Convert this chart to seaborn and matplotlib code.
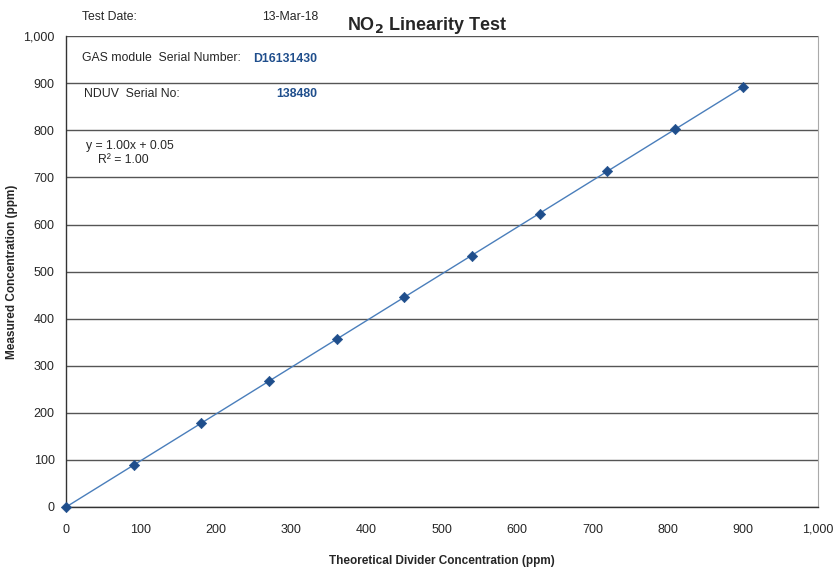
import numpy as np
import pandas as pd
import seaborn as sns
import matplotlib.pyplot as plt

# data
theoretical = [0, 90, 180, 270, 360, 450, 540, 630, 720, 810, 900]
measured = [0, 88, 178, 267, 357, 446, 534, 623, 713, 803, 892]
x_ticks = list(range(0, 1001, 100))
y_ticks = list(range(0, 1001, 100))

df = pd.DataFrame({'theoretical': theoretical, 'measured': measured})

sns.set_style('white')
plt.rcParams['font.family'] = ['Liberation Sans', 'DejaVu Sans']

fig = plt.figure(figsize=(8.33, 5.67), dpi=100)
ax = fig.add_axes([0.079, 0.106, 0.903, 0.830])

# trendline
slope, intercept = np.polyfit(df['theoretical'], df['measured'], 1)
xs = np.array([df['theoretical'].min(), df['theoretical'].max()])
ax.plot(xs, slope * xs + intercept, color='#4a7ebb', lw=1.0, zorder=2)

sns.scatterplot(data=df, x='theoretical', y='measured', marker='D', s=28,
                color='#1f4e8c', edgecolor='#1f4e8c', ax=ax, zorder=3, clip_on=False)

ax.set_xlim(0, 1000)
ax.set_ylim(0, 1000)
ax.set_xticks(x_ticks)
ax.set_yticks(y_ticks)
ax.set_xticklabels([f'{v:,}' for v in x_ticks], fontsize=9)
ax.set_yticklabels([f'{v:,}' for v in y_ticks], fontsize=9)
ax.tick_params(axis='both', direction='out', length=4, width=0.8, color='#333333', pad=4)
ax.tick_params(axis='x', pad=8)

ax.yaxis.grid(True, color='#555555', lw=1.0)
ax.xaxis.grid(False)
ax.set_axisbelow(True)

for s in ['left', 'bottom']:
    ax.spines[s].set_color('#333333')
    ax.spines[s].set_linewidth(1.0)
ax.spines['top'].set_visible(False)
ax.spines['right'].set_color('#aaaaaa')
ax.spines['right'].set_linewidth(0.8)

ax.set_xlabel('Theoretical Divider Concentration (ppm)', fontsize=8.5, fontweight='bold', labelpad=14)
ax.set_ylabel('Measured Concentration (ppm)', fontsize=8.5, fontweight='bold', labelpad=6)
ax.yaxis.set_label_coords(-0.064, 0.5)

# header texts
fs = 8.8
fig.text(82 / 833, 1 - 17 / 567, 'Test Date:', fontsize=fs, va='center')
fig.text(262 / 833, 1 - 17 / 567, '13-Mar-18', fontsize=fs, va='center')
fig.text(347 / 833, 1 - 25 / 567, 'NO$_\\mathbf{2}$ Linearity Test', fontsize=13, fontweight='bold', va='center')

fig.text(82 / 833, 1 - 58 / 567, 'GAS module  Serial Number:', fontsize=fs, va='center')
fig.text(253 / 833, 1 - 59 / 567, 'D16131430', fontsize=fs, fontweight='bold', color='#1f4e8c', va='center')
fig.text(84 / 833, 1 - 94 / 567, 'NDUV  Serial No:', fontsize=fs, va='center')
fig.text(276 / 833, 1 - 94 / 567, '138480', fontsize=fs, fontweight='bold', color='#1f4e8c', va='center')

fig.text(86 / 833, 1 - 146 / 567, 'y = 1.00x + 0.05', fontsize=fs, va='center')
fig.text(98 / 833, 1 - 160 / 567, 'R² = 1.00', fontsize=fs, va='center')

fig.savefig('out.png', dpi=100, facecolor='white')
